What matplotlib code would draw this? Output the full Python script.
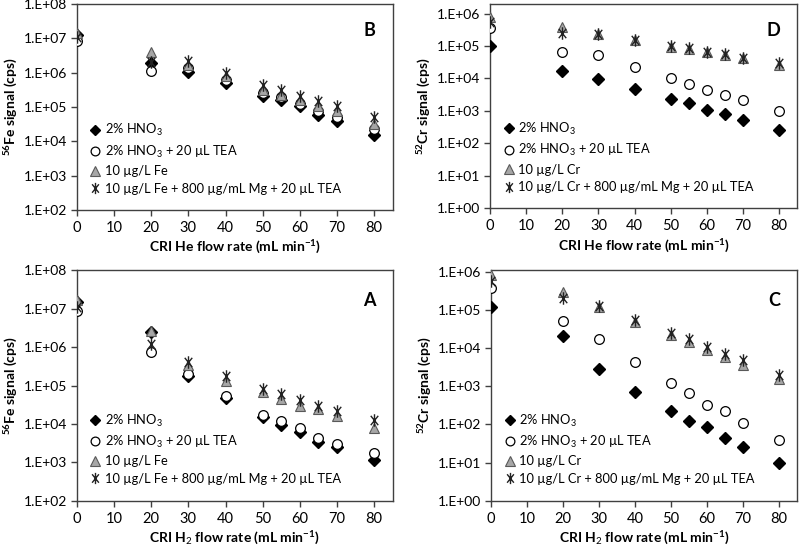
import math
import matplotlib
matplotlib.use("Agg")
import matplotlib.pyplot as plt
from matplotlib.path import Path
from matplotlib.ticker import FixedLocator, FuncFormatter, NullLocator

plt.rcParams['font.family'] = ['Lato', 'DejaVu Sans']
plt.rcParams['mathtext.fontset'] = 'custom'
plt.rcParams['mathtext.rm'] = 'Lato'
plt.rcParams['mathtext.it'] = 'Lato:italic'
plt.rcParams['mathtext.bf'] = 'Lato:bold'

# flow rates (mL/min)
flow = [0, 20, 30, 40, 50, 55, 60, 65, 70, 80]

# B: 56Fe, CRI He
fe_he_hno3 = [1.26e7, 1.9e6, 1.07e6, 4.9e5, 2.1e5, 1.6e5, 1.03e5, 5.9e4, 4.0e4, 1.55e4]
fe_he_tea = [8.1e6, 1.1e6, 1.35e6, 6.2e5, 2.5e5, 1.9e5, 1.2e5, 7.4e4, 5.0e4, 2.2e4]
fe_he_std = [1.45e7, 3.9e6, 1.7e6, 8.1e5, 3.2e5, 2.2e5, 1.6e5, 1.07e5, 7.4e4, 3.2e4]
fe_he_mg = [1.1e7, 2.0e6, 2.1e6, 1.0e6, 4.2e5, 3.0e5, 2.1e5, 1.5e5, 1.03e5, 5.0e4]

# A: 56Fe, CRI H2
fe_h2_hno3 = [1.5e7, 2.4e6, 1.8e5, 4.6e4, 1.5e4, 9.6e3, 6.2e3, 3.5e3, 2.5e3, 1.15e3]
fe_h2_tea = [8.5e6, 7.5e5, 1.95e5, 5.5e4, 1.7e4, 1.17e4, 7.8e3, 4.3e3, 3.0e3, 1.8e3]
fe_h2_std = [1.7e7, 2.6e6, 3.4e5, 1.3e5, 6.6e4, 4.4e4, 2.9e4, 2.4e4, 1.6e4, 7.8e3]
fe_h2_mg = [1.1e7, 1.2e6, 4.2e5, 1.8e5, 7.9e4, 5.9e4, 4.1e4, 3.0e4, 2.2e4, 1.3e4]

# D: 52Cr, CRI He
cr_he_hno3 = [1.02e5, 1.7e4, 9.5e3, 4.9e3, 2.4e3, 1.7e3, 1.1e3, 8.3e2, 5.4e2, 2.6e2]
cr_he_tea = [3.5e5, 6.6e4, 5.2e4, 2.3e4, 1.0e4, 6.6e3, 4.4e3, 3.0e3, 2.1e3, 1.0e3]
cr_he_std = [7.8e5, 3.8e5, 2.3e5, 1.55e5, 9.6e4, 8.3e4, 6.4e4, 5.4e4, 4.2e4, 2.6e4]
cr_he_mg = [5.7e5, 2.5e5, 2.4e5, 1.58e5, 9.8e4, 8.5e4, 6.6e4, 5.6e4, 4.4e4, 3.1e4]

# C: 52Cr, CRI H2
cr_h2_hno3 = [1.2e5, 2.1e4, 2.8e3, 7.0e2, 2.2e2, 1.25e2, 87, 45, 25, 10]
cr_h2_tea = [3.7e5, 5.2e4, 1.7e4, 4.3e3, 1.2e3, 6.6e2, 3.3e2, 2.2e2, 1.1e2, 40]
cr_h2_std = [8.0e5, 3.0e5, 1.2e5, 4.8e4, 2.2e4, 1.45e4, 9.2e3, 5.9e3, 3.6e3, 1.6e3]
cr_h2_mg = [5.8e5, 2.0e5, 1.25e5, 5.6e4, 2.5e4, 1.7e4, 1.1e4, 7.2e3, 4.9e3, 2.0e3]

xticks = [0, 10, 20, 30, 40, 50, 60, 70, 80]

# Excel-style star: an X with a vertical stroke
star = Path([(-0.6, -0.75), (0.6, 0.75), (-0.6, 0.75), (0.6, -0.75), (0, -1), (0, 1)],
            [Path.MOVETO, Path.LINETO, Path.MOVETO, Path.LINETO, Path.MOVETO, Path.LINETO])


def sci(v, pos):
    return "1.E+%02d" % int(round(math.log10(v)))


def panel(ax, series, elem, ylo, yhi, yticktop, gas, letter):
    hno3, tea, std, mg = series
    ax.plot(flow, hno3, ls='none', marker='D', ms=6, mfc='black', mec='black',
            label='2% HNO$_3$', zorder=3)
    ax.plot(flow, tea, ls='none', marker='o', ms=7, mfc='white', mec='black', mew=0.9,
            label='2% HNO$_3$ + 20 µL TEA', zorder=4)
    ax.plot(flow, std, ls='none', marker='^', ms=7.5, mfc='#a6a6a6', mec='#595959', mew=0.8,
            label='10 µg/L %s' % elem, zorder=5)
    ax.plot(flow, mg, ls='none', marker=star, ms=9, mfc='none', mec='#222222', mew=1.0,
            label='10 µg/L %s + 800 µg/mL Mg + 20 µL TEA' % elem, zorder=6)
    ax.set_yscale('log')
    ax.set_ylim(ylo, yhi)
    ax.set_xlim(0, 85)
    lo = int(round(math.log10(ylo)))
    ax.yaxis.set_major_locator(FixedLocator([10.0 ** k for k in range(lo, yticktop + 1)]))
    ax.yaxis.set_minor_locator(NullLocator())
    ax.yaxis.set_major_formatter(FuncFormatter(sci))
    ax.set_xticks(xticks)
    ax.tick_params(axis='y', direction='out', length=4, width=1, labelsize=10, color='#404040', pad=3)
    ax.tick_params(axis='x', direction='out', length=4, width=1, labelsize=10.5, color='#404040', pad=4)
    for s in ax.spines.values():
        s.set_color('#404040')
        s.set_linewidth(1.0)
    ax.set_xlabel('CRI %s flow rate (mL min$^{\\mathbf{-1}}$)' % gas, fontsize=10, fontweight='bold', labelpad=3)
    iso = '52' if elem == 'Cr' else '56'
    ax.set_ylabel('$^{\\mathbf{%s}}$%s signal (cps)' % (iso, elem), fontsize=10, fontweight='bold', labelpad=3)
    ax.text(0.945, 0.87, letter, transform=ax.transAxes, ha='right', va='center',
            fontsize=13, fontweight='bold')
    ax.legend(loc='lower left', frameon=False, fontsize=9.3, handletextpad=0.2,
              labelspacing=0.42, borderaxespad=0.3, handlelength=1.0, markerscale=0.9,
              bbox_to_anchor=(0.01, 0.03))


fig = plt.figure(figsize=(8, 5.48), dpi=100)
axB = fig.add_axes([0.096, 0.617, 0.395, 0.376])
axD = fig.add_axes([0.6125, 0.620, 0.384, 0.373])
axA = fig.add_axes([0.096, 0.086, 0.395, 0.421])
axC = fig.add_axes([0.614, 0.086, 0.382, 0.421])

panel(axB, (fe_he_hno3, fe_he_tea, fe_he_std, fe_he_mg), 'Fe', 1e2, 1e8, 8, 'He', 'B')
panel(axD, (cr_he_hno3, cr_he_tea, cr_he_std, cr_he_mg), 'Cr', 1e0, 2e6, 6, 'He', 'D')
panel(axA, (fe_h2_hno3, fe_h2_tea, fe_h2_std, fe_h2_mg), 'Fe', 1e2, 1e8, 8, 'H$_2$', 'A')
panel(axC, (cr_h2_hno3, cr_h2_tea, cr_h2_std, cr_h2_mg), 'Cr', 1e0, 1.1e6, 6, 'H$_2$', 'C')

fig.savefig('out.png', dpi=100)
